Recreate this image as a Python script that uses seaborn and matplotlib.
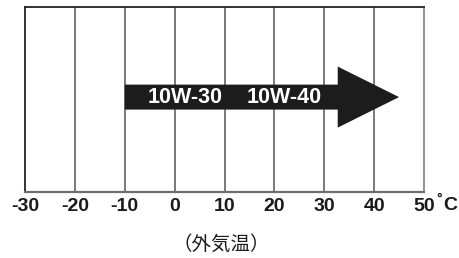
import matplotlib
matplotlib.use("Agg")
import matplotlib.pyplot as plt
import seaborn as sns
from matplotlib.patches import FancyArrow

# temperature axis
temps = [-30, -20, -10, 0, 10, 20, 30, 40, 50]
tick_labels = ["-30", "-20", "-10", "0", "10", "20", "30", "40", "50"]

# oil grades and usable range (deg C)
grades = ["10W-30", "10W-40"]
grade_pos = [-5.4, 14.4]
range_start = -10
range_end = 45
head_start = 32.7

sns.set_style("white")
plt.rcParams["font.family"] = ["Liberation Sans", "DejaVu Sans"]

fig = plt.figure(figsize=(4.59, 2.58), dpi=100)
ax = fig.add_axes([25 / 459, 1 - 192 / 258, 399 / 459, 185 / 258])
ax.set_xlim(temps[0], temps[-1])
ax.set_ylim(0, 1)

for t in temps[1:-1]:
    ax.axvline(t, color="#6e6e6e", lw=1.3, zorder=1)

for side in ["top", "left"]:
    ax.spines[side].set_color("#222222")
    ax.spines[side].set_linewidth(1.3)
ax.spines["bottom"].set_color("#6e6e6e")
ax.spines["bottom"].set_linewidth(1.6)
ax.spines["right"].set_color("#8a8a8a")
ax.spines["right"].set_linewidth(1.3)

yc = 0.513
arrow = FancyArrow(range_start, yc, range_end - range_start, 0,
                   width=0.135, head_width=0.33,
                   head_length=range_end - head_start,
                   length_includes_head=True, color="#1c1c1c", lw=0, zorder=3)
ax.add_patch(arrow)

for g, x in zip(grades, grade_pos):
    ax.text(x, yc, g, color="white", fontsize=15.5, fontweight="bold",
            ha="left", va="center", zorder=4)

ax.set_xticks(temps)
ax.set_xticklabels(tick_labels, fontsize=14, fontweight="bold", color="#1a1a1a")
ax.tick_params(axis="x", length=0, pad=4)
ax.set_yticks([])

fig.text(436 / 459, 1 - 199 / 258, "°", fontsize=10, fontweight="bold",
         color="#1a1a1a", ha="left", va="center")
fig.text(443 / 459, 1 - 205 / 258, "C", fontsize=14, fontweight="bold",
         color="#1a1a1a", ha="left", va="center")
fig.text(221 / 459, 1 - 244 / 258, "（外気温）",
         family=["Noto Sans CJK JP", "DejaVu Sans"], fontsize=14,
         color="#1a1a1a", ha="center", va="center")

fig.savefig("out.png", dpi=100)
